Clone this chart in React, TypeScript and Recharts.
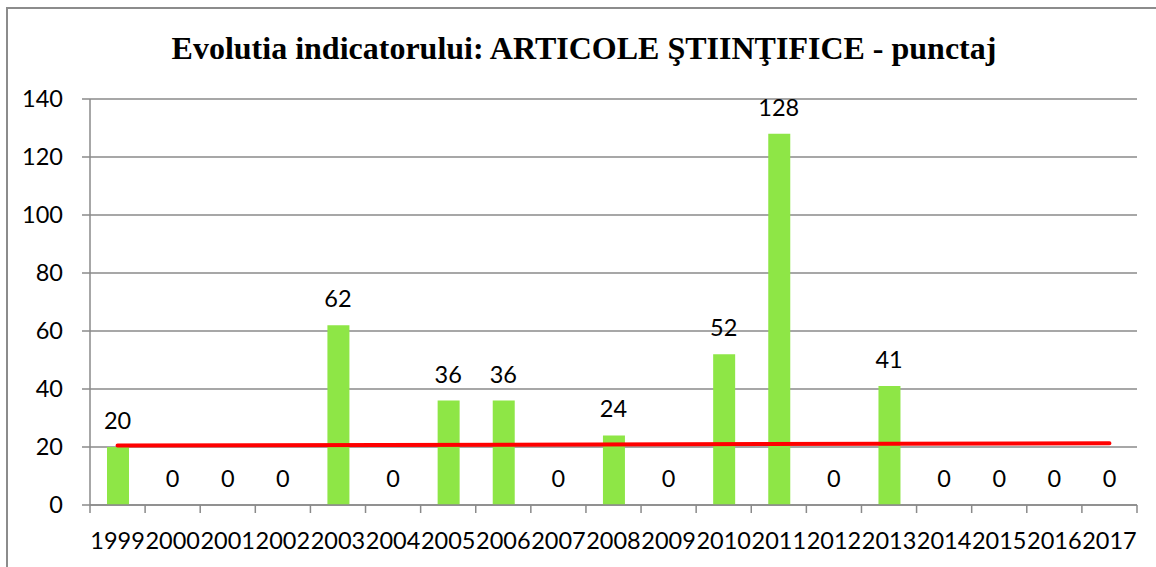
import { Bar, CartesianGrid, ComposedChart, LabelList, Line, XAxis, YAxis } from "recharts"

const years = [
  "1999", "2000", "2001", "2002", "2003", "2004", "2005", "2006", "2007", "2008",
  "2009", "2010", "2011", "2012", "2013", "2014", "2015", "2016", "2017",
]
const punctaj = [20, 0, 0, 0, 62, 0, 36, 36, 0, 24, 0, 52, 128, 0, 41, 0, 0, 0, 0]
// red reference line: only its two ends are read, the segment between is drawn straight
const trend: (number | null)[] = [
  20.5, null, null, null, null, null, null, null, null, null,
  null, null, null, null, null, null, null, null, 21.3,
]
const yTicks = [0, 20, 40, 60, 80, 100, 120, 140]

const data = years.map((year, i) => ({ year, punctaj: punctaj[i], trend: trend[i] }))

const FONT = "Lato, 'Open Sans', sans-serif"
const FONT_SIZE = 23.5
const AXIS = "#8a8a8a"
const TICK_SIZE = 8
const TICK_MARGIN = 19

function YearTick(props: any) {
  const { x, y, payload, index, visibleTicksCount, width } = props
  const band = width / visibleTicksCount
  const axisY = y - TICK_SIZE - TICK_MARGIN
  const left = x - band / 2
  return (
    <g>
      <line x1={left} x2={left} y1={axisY} y2={axisY + TICK_SIZE} stroke={AXIS} strokeWidth={1.5} />
      {index === visibleTicksCount - 1 && (
        <line x1={left + band} x2={left + band} y1={axisY} y2={axisY + TICK_SIZE} stroke={AXIS} strokeWidth={1.5} />
      )}
      <text x={x} y={y} dy="0.71em" textAnchor="middle" fill="#000" fontSize={FONT_SIZE} fontFamily={FONT}>
        {payload.value}
      </text>
    </g>
  )
}

export default function App() {
  return (
    <div style={{ position: "absolute", left: 0, top: 0, width: 1156, height: 567, overflow: "hidden", background: "#fff" }}>
      <div
        style={{
          position: "absolute",
          left: 6,
          top: 7,
          width: 1300,
          height: 700,
          border: "2px solid #8c8c8c",
          boxSizing: "border-box",
        }}
      />
      <div
        style={{
          position: "absolute",
          left: 6,
          top: 32,
          width: 1156,
          textAlign: "center",
          fontFamily: "'Liberation Serif', 'Times New Roman', serif",
          fontWeight: "bold",
          fontSize: 32,
          lineHeight: 1,
          color: "#000",
        }}
      >
        Evolutia indicatorului: ARTICOLE ŞTIINŢIFICE - punctaj
      </div>
      <div style={{ position: "absolute", left: 0, top: 0 }}>
        <ComposedChart width={1156} height={567} data={data} margin={{ top: 99, right: 19, bottom: 0, left: 0 }}>
          <CartesianGrid vertical={false} stroke={AXIS} strokeWidth={1.5} />
          <XAxis
            dataKey="year"
            height={62}
            stroke={AXIS}
            strokeWidth={1.5}
            tickLine={false}
            tickSize={TICK_SIZE}
            tickMargin={TICK_MARGIN}
            interval={0}
            tick={<YearTick />}
          />
          <YAxis
            width={90}
            domain={[0, 140]}
            ticks={yTicks}
            interval={0}
            stroke={AXIS}
            strokeWidth={1.5}
            tickSize={8}
            tickMargin={19}
            tick={{ fill: "#000", fontSize: FONT_SIZE, fontFamily: FONT }}
          />
          <Bar dataKey="punctaj" fill="#8ee646" barSize={22} isAnimationActive={false} />
          {/* invisible series carrying the value labels, so the zero values get one too */}
          <Line
            dataKey="punctaj"
            stroke="none"
            dot={false}
            activeDot={false}
            isAnimationActive={false}
          >
            <LabelList
              dataKey="punctaj"
              position="top"
              offset={18}
              fill="#000"
              fontSize={FONT_SIZE}
              fontFamily={FONT}
            />
          </Line>
          <Line
            dataKey="trend"
            stroke="#ff0000"
            strokeWidth={4}
            strokeLinecap="round"
            dot={false}
            activeDot={false}
            connectNulls
            isAnimationActive={false}
          />
        </ComposedChart>
      </div>
    </div>
  )
}
